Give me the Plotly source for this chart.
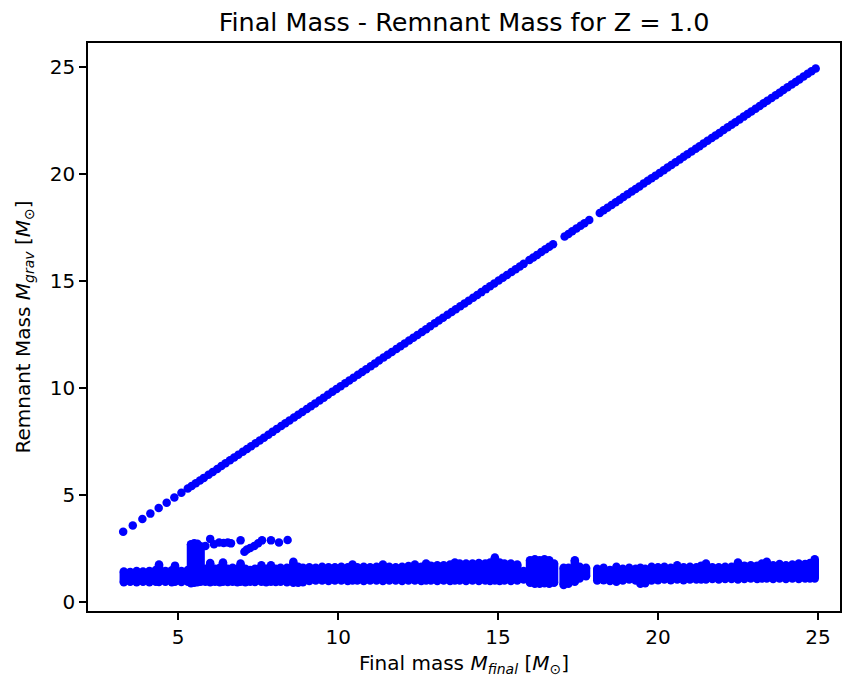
import plotly.graph_objects as go

# ---- Data ----
# Branch where remnant mass equals final mass (direct collapse)
diag_final = [3.28, 3.58, 3.88, 4.13, 4.39, 4.64, 4.88, 5.10, 5.30, 5.42, 5.55, 5.68, 5.80, 5.95,
              6.08, 6.22, 6.35, 6.48, 6.62, 6.75, 6.88, 7.02, 7.15, 7.28, 7.42, 7.55, 7.68, 7.82,
              7.95, 8.08, 8.22, 8.35, 8.48, 8.62, 8.75, 8.88, 9.02, 9.15, 9.28, 9.42, 9.55, 9.68,
              9.82, 9.95, 10.08, 10.22, 10.35, 10.48, 10.62, 10.75, 10.88, 11.02, 11.15, 11.28,
              11.42, 11.55, 11.68, 11.82, 11.95, 12.08, 12.22, 12.35, 12.48, 12.62, 12.75, 12.88,
              13.02, 13.15, 13.28, 13.42, 13.55, 13.68, 13.82, 13.95, 14.08, 14.22, 14.35, 14.48,
              14.62, 14.75, 14.88, 15.02, 15.15, 15.28, 15.42, 15.55, 15.68, 15.80, 15.98, 16.10,
              16.22, 16.35, 16.48, 16.60, 16.72, 17.08, 17.20, 17.32, 17.45, 17.58, 17.70, 17.85,
              18.18, 18.30, 18.42, 18.55, 18.68, 18.80, 18.92, 19.05, 19.18, 19.30, 19.42, 19.55,
              19.68, 19.80, 19.92, 20.05, 20.18, 20.30, 20.42, 20.55, 20.68, 20.80, 20.92, 21.05,
              21.18, 21.30, 21.42, 21.55, 21.68, 21.80, 21.92, 22.05, 22.18, 22.30, 22.42, 22.55,
              22.68, 22.80, 22.92, 23.05, 23.18, 23.30, 23.42, 23.55, 23.68, 23.80, 23.92, 24.05,
              24.18, 24.30, 24.42, 24.55, 24.68, 24.80, 24.93]
diag_remnant = [3.28, 3.58, 3.88, 4.13, 4.39, 4.64, 4.88, 5.10, 5.30, 5.42, 5.55, 5.68, 5.80, 5.95,
                6.08, 6.22, 6.35, 6.48, 6.62, 6.75, 6.88, 7.02, 7.15, 7.28, 7.42, 7.55, 7.68, 7.82,
                7.95, 8.08, 8.22, 8.35, 8.48, 8.62, 8.75, 8.88, 9.02, 9.15, 9.28, 9.42, 9.55, 9.68,
                9.82, 9.95, 10.08, 10.22, 10.35, 10.48, 10.62, 10.75, 10.88, 11.02, 11.15, 11.28,
                11.42, 11.55, 11.68, 11.82, 11.95, 12.08, 12.22, 12.35, 12.48, 12.62, 12.75, 12.88,
                13.02, 13.15, 13.28, 13.42, 13.55, 13.68, 13.82, 13.95, 14.08, 14.22, 14.35, 14.48,
                14.62, 14.75, 14.88, 15.02, 15.15, 15.28, 15.42, 15.55, 15.68, 15.80, 15.98, 16.10,
                16.22, 16.35, 16.48, 16.60, 16.72, 17.08, 17.20, 17.32, 17.45, 17.58, 17.70, 17.85,
                18.18, 18.30, 18.42, 18.55, 18.68, 18.80, 18.92, 19.05, 19.18, 19.30, 19.42, 19.55,
                19.68, 19.80, 19.92, 20.05, 20.18, 20.30, 20.42, 20.55, 20.68, 20.80, 20.92, 21.05,
                21.18, 21.30, 21.42, 21.55, 21.68, 21.80, 21.92, 22.05, 22.18, 22.30, 22.42, 22.55,
                22.68, 22.80, 22.92, 23.05, 23.18, 23.30, 23.42, 23.55, 23.68, 23.80, 23.92, 24.05,
                24.18, 24.30, 24.42, 24.55, 24.68, 24.80, 24.93]

# Dense neutron-star band: per final-mass column, lowest and highest remnant mass
band_final = [3.3, 3.5, 3.7, 3.9, 4.1, 4.3, 4.4, 4.6, 4.8, 4.9, 5.1, 5.3, 5.4, 5.5, 5.6, 5.7,
              5.85, 6.0, 6.15, 6.3, 6.4, 6.55, 6.7, 6.85, 6.95, 7.1, 7.25, 7.4, 7.6, 7.75, 7.9,
              8.05, 8.2, 8.4, 8.6, 8.75, 8.9, 9.1, 9.3, 9.5, 9.7, 9.9, 10.1, 10.3, 10.45, 10.6,
              10.8, 11.0, 11.2, 11.4, 11.6, 11.8, 12.0, 12.2, 12.4, 12.6, 12.75, 12.9, 13.1, 13.3,
              13.5, 13.65, 13.8, 14.0, 14.2, 14.4, 14.6, 14.75, 14.9, 15.05, 15.2, 15.4, 15.6,
              15.8, 16.0, 16.15, 16.3, 16.45, 16.6, 16.75, 17.05, 17.2, 17.4, 17.55, 17.75, 18.1,
              18.3, 18.5, 18.7, 18.9, 19.1, 19.3, 19.45, 19.6, 19.8, 20.0, 20.2, 20.4, 20.6, 20.8,
              21.0, 21.2, 21.35, 21.5, 21.7, 21.9, 22.1, 22.3, 22.5, 22.7, 22.9, 23.1, 23.25, 23.4,
              23.6, 23.8, 24.0, 24.2, 24.4, 24.6, 24.75, 24.9]
band_low = [0.92, 0.95, 0.92, 0.95, 0.92, 0.95, 0.93, 0.95, 0.92, 0.95, 0.93, 0.95, 0.88, 0.90,
            0.92, 0.95, 0.95, 0.92, 0.95, 0.92, 0.95, 0.93, 0.95, 0.92, 0.95, 0.92, 0.95, 0.93,
            0.95, 0.92, 0.95, 0.93, 0.95, 0.92, 0.90, 0.90, 0.92, 0.98, 1.00, 1.00, 0.98, 1.00,
            1.00, 0.98, 1.00, 1.00, 0.98, 1.00, 1.00, 0.98, 1.00, 1.00, 0.98, 1.00, 1.00, 0.98,
            1.00, 1.00, 0.98, 1.00, 0.98, 1.00, 1.00, 0.98, 1.00, 0.98, 1.00, 0.98, 1.00, 0.98,
            1.00, 0.98, 1.00, 1.05, 0.90, 0.85, 0.85, 0.88, 0.85, 0.90, 0.80, 0.85, 0.95, 1.10,
            1.20, 1.00, 1.02, 0.98, 0.95, 1.00, 1.05, 1.00, 0.85, 0.88, 1.00, 1.02, 1.05, 1.02,
            1.05, 1.02, 1.05, 1.05, 1.05, 1.05, 1.08, 1.05, 1.08, 1.08, 1.05, 1.08, 1.10, 1.08,
            1.10, 1.10, 1.08, 1.10, 1.08, 1.10, 1.08, 1.10, 1.10, 1.10]
band_high = [1.42, 1.40, 1.45, 1.42, 1.45, 1.50, 1.75, 1.45, 1.48, 1.70, 1.45, 1.50, 2.70, 2.75,
             2.72, 2.60, 1.55, 1.82, 1.55, 1.60, 1.85, 1.55, 1.60, 1.55, 1.80, 1.55, 1.50, 1.55,
             1.72, 1.55, 1.72, 1.55, 1.60, 1.60, 1.88, 1.65, 1.60, 1.62, 1.60, 1.65, 1.62, 1.62,
             1.65, 1.62, 1.75, 1.62, 1.65, 1.62, 1.65, 1.75, 1.65, 1.62, 1.65, 1.68, 1.75, 1.65,
             1.80, 1.70, 1.72, 1.72, 1.75, 1.85, 1.80, 1.80, 1.80, 1.82, 1.80, 1.85, 2.08, 1.85,
             1.80, 1.80, 1.75, 1.45, 1.95, 2.00, 1.95, 2.00, 1.95, 1.80, 1.60, 1.60, 1.95, 1.65,
             1.60, 1.55, 1.60, 1.50, 1.65, 1.55, 1.60, 1.55, 1.60, 1.55, 1.65, 1.62, 1.65, 1.60,
             1.72, 1.62, 1.65, 1.62, 1.70, 1.80, 1.62, 1.62, 1.65, 1.65, 1.85, 1.70, 1.72, 1.70,
             1.80, 1.88, 1.72, 1.78, 1.72, 1.75, 1.80, 1.78, 1.82, 2.00]

# Isolated heavier remnants above the band
upper_final = [5.85, 6.00, 6.12, 6.28, 6.42, 6.55, 6.65, 6.95, 7.07, 7.15, 7.25, 7.38, 7.50,
               7.62, 7.90, 8.15, 8.42]
upper_remnant = [2.62, 2.95, 2.70, 2.78, 2.76, 2.78, 2.74, 2.88, 2.35, 2.45, 2.52, 2.62, 2.75,
                 2.88, 2.88, 2.78, 2.90]

BLUE = "#0000ff"
FONT = "DejaVu Sans"
MS = 8.5

# Band columns drawn as capped vertical strokes between low and high values
bx, by = [], []
for x, lo, hi in zip(band_final, band_low, band_high):
    bx += [x, x, None]
    by += [lo, hi, None]

fig = go.Figure()
fig.add_trace(go.Scatter(x=bx, y=by, mode="lines+markers",
                         line=dict(color=BLUE, width=MS),
                         marker=dict(color=BLUE, size=MS), showlegend=False, hoverinfo="skip"))
fig.add_trace(go.Scatter(x=diag_final, y=diag_remnant, mode="markers",
                         marker=dict(color=BLUE, size=MS), showlegend=False))
fig.add_trace(go.Scatter(x=upper_final, y=upper_remnant, mode="markers",
                         marker=dict(color=BLUE, size=MS), showlegend=False))

axis_common = dict(showgrid=False, zeroline=False, showline=True, linecolor="black",
                   linewidth=1.5, mirror=True, ticks="outside", ticklen=7, tickwidth=1.5,
                   tickcolor="black", tickfont=dict(family=FONT, size=20, color="black"))

fig.update_layout(
    width=843, height=683,
    margin=dict(l=88, r=1, t=43, b=72),
    paper_bgcolor="white", plot_bgcolor="white",
    font=dict(family=FONT, color="black"),
    title=dict(text="Final Mass - Remnant Mass for Z = 1.0", x=0.5, xref="paper",
               y=1 - 22 / 683, yref="container", yanchor="middle",
               font=dict(family=FONT, size=25.5, color="black")),
    xaxis=dict(range=[2.18, 25.69], tickvals=[5, 10, 15, 20, 25],
               title=dict(text="Final mass <i>M</i><sub><i>final</i></sub> [<i>M</i><sub>⊙</sub>]",
                          font=dict(family=FONT, size=20, color="black"), standoff=8),
               **axis_common),
    yaxis=dict(range=[-0.42, 26.12], tickvals=[0, 5, 10, 15, 20, 25],
               title=dict(text="Remnant Mass <i>M</i><sub><i>grav</i></sub> [<i>M</i><sub>⊙</sub>]",
                          font=dict(family=FONT, size=20, color="black"), standoff=14),
               **axis_common),
)

fig.write_html("out.html")
